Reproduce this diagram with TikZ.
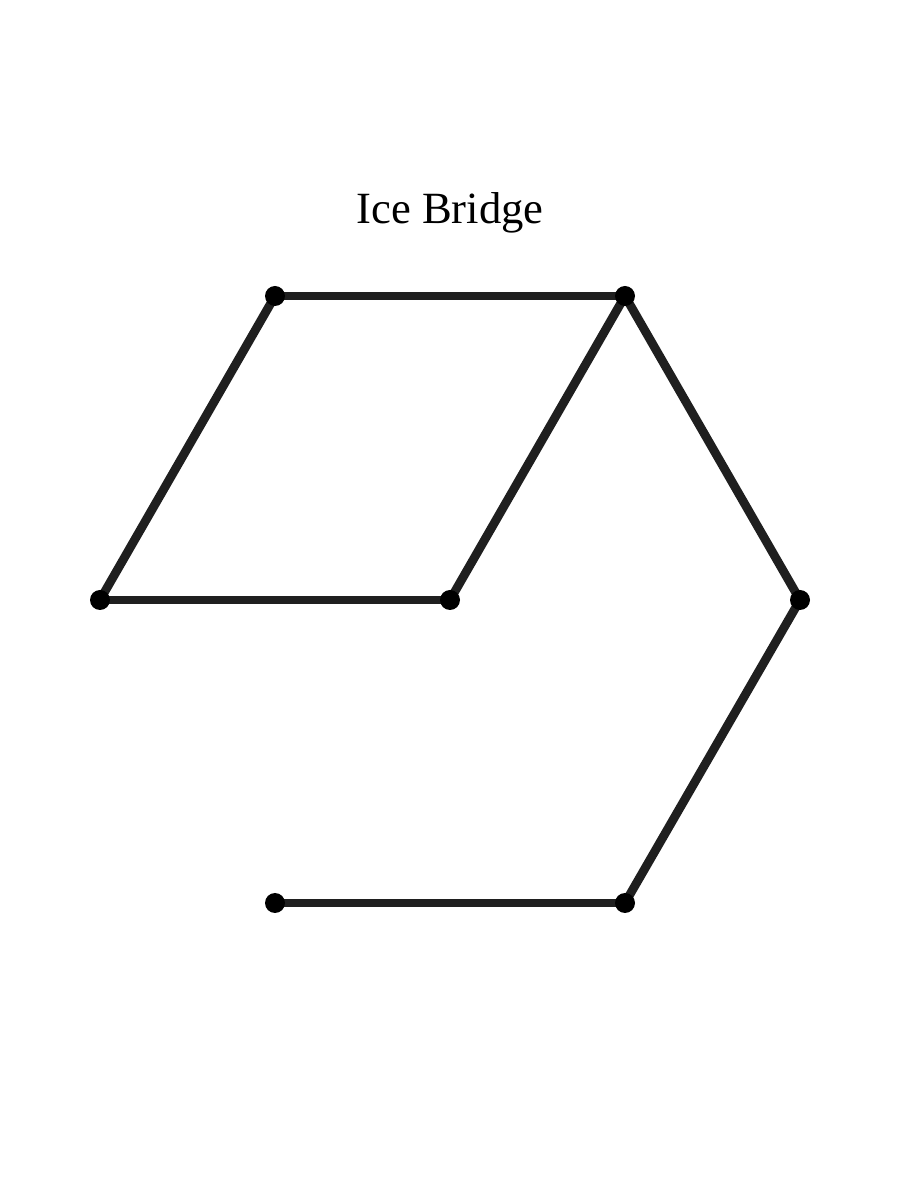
\documentclass[tikz,border=0pt]{standalone}
\usepackage{fontspec}
\setmainfont{Liberation Serif}
\usetikzlibrary{positioning}

\begin{document}
\begin{tikzpicture}[x=1cm,y=1cm,
  edge/.style={line width=2.5pt, draw=black!88},
  dot/.style={circle, fill=black, inner sep=0pt, minimum size=0.2cm}]
\useasboundingbox (0,0) rectangle (9,12);
% title
\node (title) at (4.5,9.87) {\fontsize{12.7}{15}\selectfont Ice Bridge};
% points
\coordinate (p1) at (2.75,9.04);
\coordinate (p2) at (6.25,9.04);
\coordinate (p3) at (1.0,6.0);
\coordinate (p4) at (4.5,6.0);
\coordinate (p5) at (8.0,6.0);
\coordinate (p6) at (2.75,2.97);
\coordinate (p7) at (6.25,2.97);
% bridge
\draw[edge] (p1) -- (p2);
\draw[edge] (p1) -- (p3);
\draw[edge] (p3) -- (p4);
\draw[edge] (p4) -- (p2);
\draw[edge] (p2) -- (p5);
\draw[edge] (p5) -- (p7);
\draw[edge] (p7) -- (p6);
% dots
\foreach \p in {p1,p2,p3,p4,p5,p6,p7}
  \node[dot] at (\p) {};
\end{tikzpicture}
\end{document}
